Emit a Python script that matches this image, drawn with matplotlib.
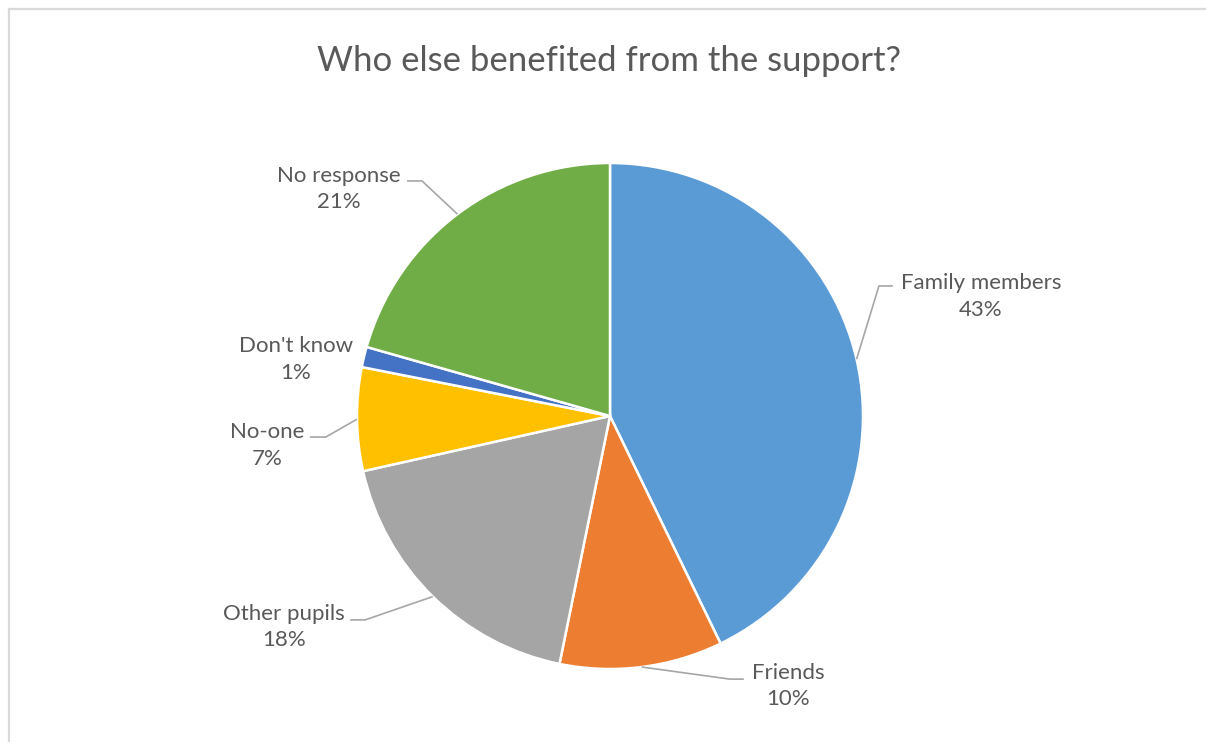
import numpy as np
import matplotlib
matplotlib.use("Agg")
import matplotlib.pyplot as plt
from matplotlib.lines import Line2D

# ---- data ----
categories = ["Family members", "Friends", "Other pupils", "No-one", "Don't know", "No response"]
shares = [42.8, 10.4, 18.3, 6.6, 1.3, 20.6]
pct_labels = ["43%", "10%", "18%", "7%", "1%", "21%"]
colors = ["#5B9BD5", "#ED7D31", "#A5A5A5", "#FFC000", "#4472C4", "#70AD47"]
title = "Who else benefited from the support?"

# ---- layout (data units of the pie axes, radius = 1) ----
label_pos = [(1.466, 0.472), (0.704, -1.067), (-1.289, -0.834),
             (-1.356, -0.117), (-1.241, 0.223), (-1.071, 0.897)]
elbows = [(1.063, 0.514, 0.055), (0.474, -1.040, 0.055), (-0.968, -0.806, -0.059),
          (-1.123, -0.083, -0.063), None, (-0.743, 0.929, -0.059)]

FONT = "Lato"
TXT = "#595959"

fig = plt.figure(figsize=(12.06, 7.42), dpi=100, frameon=False)

# white background drawn explicitly with no edge
fig.add_artist(plt.Rectangle((0, 0), 1, 1, transform=fig.transFigure,
                             facecolor="white", edgecolor="none", zorder=-10))

# chart border: only top and left edges are visible in the crop
bx0, by0 = 8.5 / 1206, 1 - 8.5 / 742
fig.add_artist(Line2D([bx0, 1.01], [by0, by0], transform=fig.transFigure,
                      color="#d9d9d9", lw=1.6))
fig.add_artist(Line2D([bx0, bx0], [-0.01, by0], transform=fig.transFigure,
                      color="#d9d9d9", lw=1.6))

ax = fig.add_axes([357 / 1206, 73 / 742, 506 / 1206, 506 / 742])
wedges, _ = ax.pie(shares, colors=colors, startangle=90, counterclock=False,
                   radius=1.0, wedgeprops=dict(edgecolor="white", linewidth=1.8))
ax.set_xlim(-1, 1)
ax.set_ylim(-1, 1)
ax.set_aspect("equal")
ax.axis("off")

for i, w in enumerate(wedges):
    lx, ly = label_pos[i]
    ax.text(lx, ly, f"{categories[i]}\n{pct_labels[i]}", ha="center", va="center",
            fontsize=16, color=TXT, family=FONT, linespacing=1.42)
    if elbows[i] is not None:
        mid = np.deg2rad((w.theta1 + w.theta2) / 2)
        ex, ey = np.cos(mid), np.sin(mid)
        bx, by, tail = elbows[i]
        ax.plot([ex, bx, bx + tail], [ey, by, by], color="#a6a6a6", lw=1.2,
                clip_on=False, solid_capstyle="butt")

fig.text(609 / 1206, 1 - 61 / 742, title, ha="center", va="center",
         fontsize=25, color=TXT, family=FONT)

fig.savefig("out.png", dpi=100, facecolor="white")
